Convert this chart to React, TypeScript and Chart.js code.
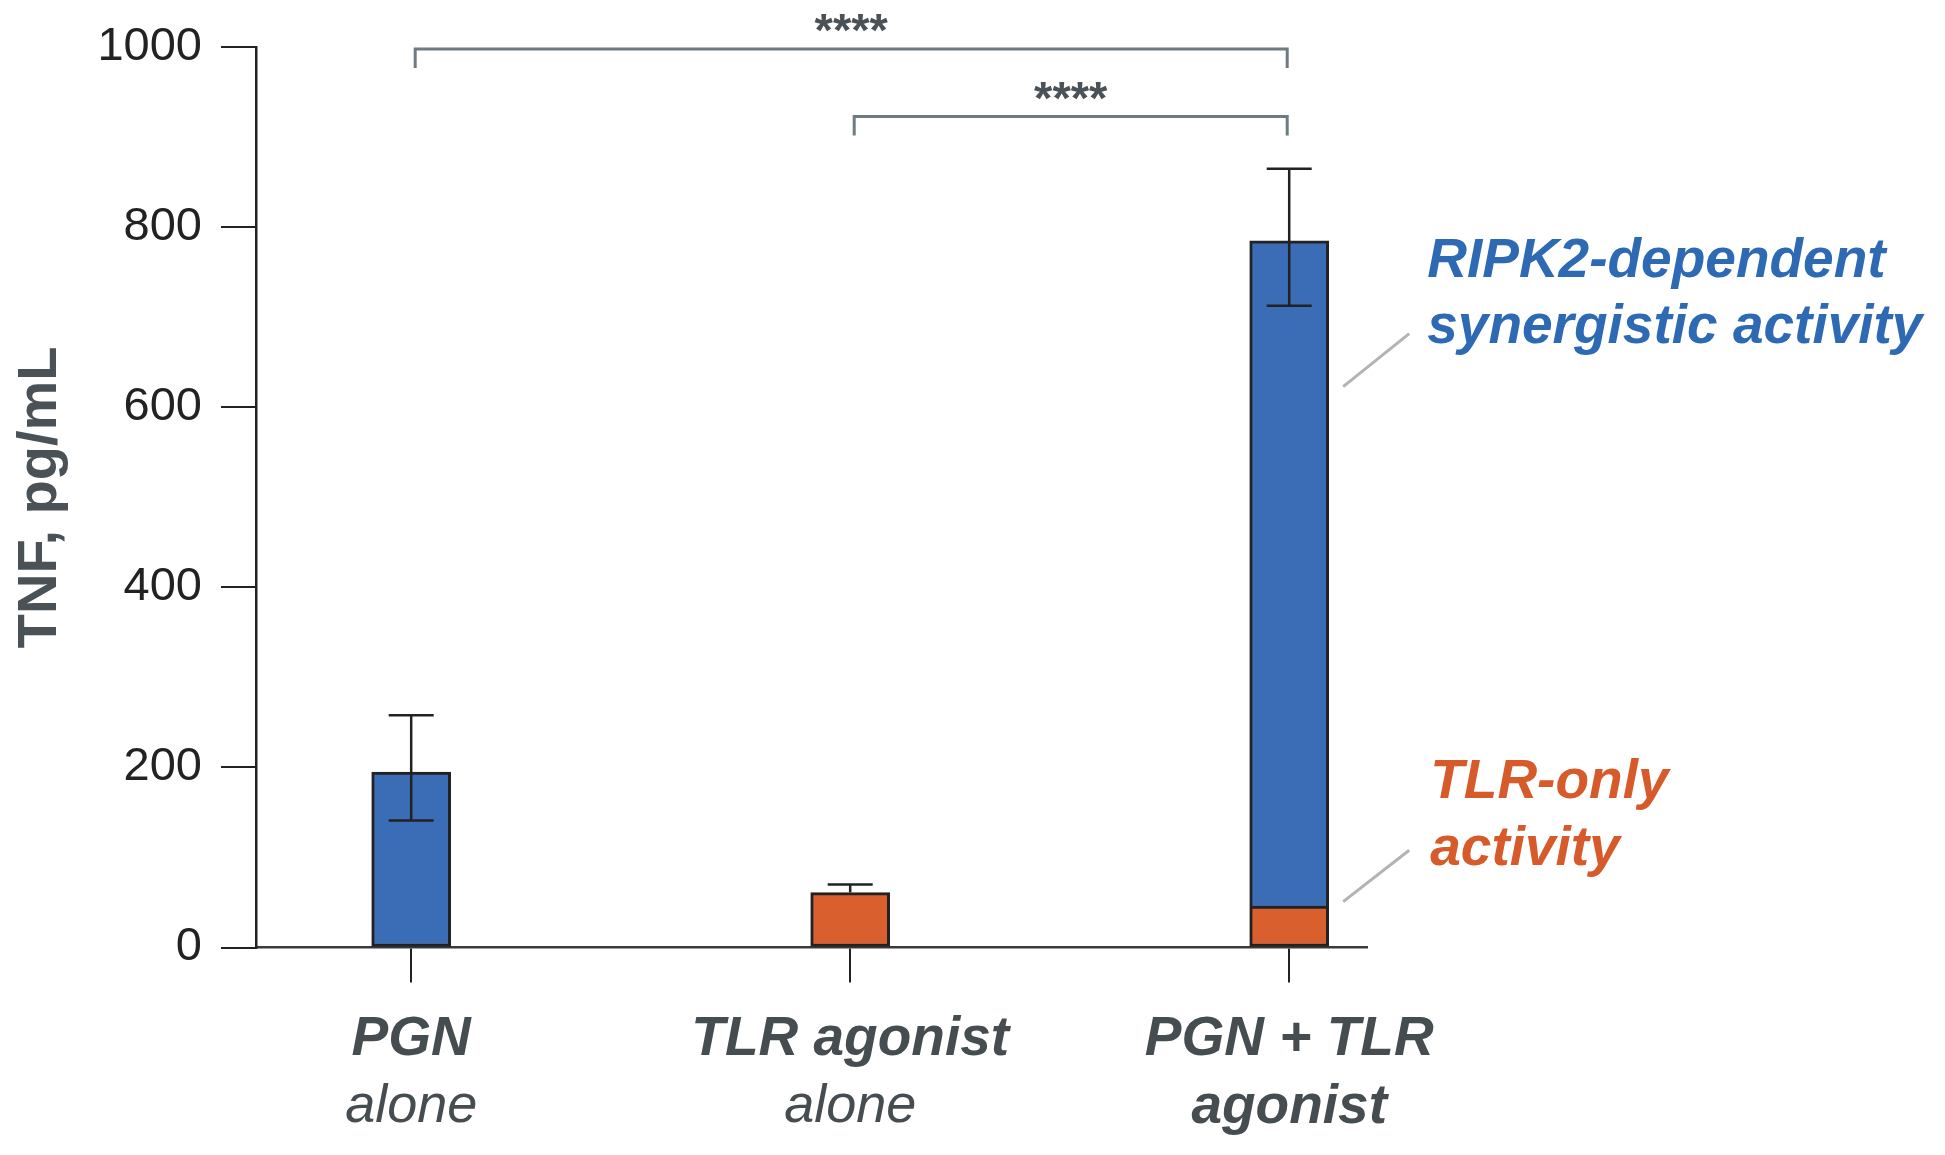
import React, { useEffect, useRef } from 'react';
import { Chart, registerables } from 'chart.js';

Chart.register(...registerables);

// ---------- data ----------
const categoriesTop = ['PGN', 'TLR agonist', 'PGN + TLR'];
const categoriesBottom = ['alone', 'alone', 'agonist'];
const tlrOnlyValues: (number | null)[] = [null, 61, 46];
const ripk2Values: (number | null)[] = [195, null, 739];
const errorUp = [63, 9, 80];
const errorDown = [54, 0, 72];
const yTickValues = [0, 200, 400, 600, 800, 1000];
const yTitle = 'TNF, pg/mL';
const brackets = [
  { from: 0, to: 2, level: 998, label: '****' },
  { from: 1, to: 2, level: 923, label: '****' },
];
const ripk2Annotation = ['RIPK2-dependent', 'synergistic activity'];
const tlrAnnotation = ['TLR-only', 'activity'];

// ---------- styles ----------
const FAMILY = '"Liberation Sans", Arial, Helvetica, sans-serif';
const BLUE = '#3b6db7';
const ORANGE = '#d95f2e';
const BLUE_TEXT = '#2e6ab3';
const ORANGE_TEXT = '#d65a2a';
const DARK = '#222222';
const GRAY_TEXT = '#464d51';

const errorBarPlugin = {
  id: 'errorBars',
  afterDatasetsDraw(chart: any) {
    const { ctx } = chart;
    const xs = chart.scales.x;
    const ys = chart.scales.y;
    ctx.save();
    ctx.strokeStyle = DARK;
    ctx.lineWidth = 2.5;
    categoriesTop.forEach((_, i) => {
      const total = (tlrOnlyValues[i] || 0) + (ripk2Values[i] || 0);
      const x = xs.getPixelForValue(i);
      const yTop = ys.getPixelForValue(total + errorUp[i]);
      const yBot = ys.getPixelForValue(total - errorDown[i]);
      const half = 22.5;
      ctx.beginPath();
      ctx.moveTo(x, yTop);
      ctx.lineTo(x, yBot);
      ctx.moveTo(x - half, yTop);
      ctx.lineTo(x + half, yTop);
      if (errorDown[i] > 0) {
        ctx.moveTo(x - half, yBot);
        ctx.lineTo(x + half, yBot);
      }
      ctx.stroke();
    });
    ctx.restore();
  },
};

const annotationPlugin = {
  id: 'annotations',
  afterDraw(chart: any) {
    const { ctx } = chart;
    const xs = chart.scales.x;
    const ys = chart.scales.y;
    ctx.save();
    // significance brackets
    brackets.forEach((b) => {
      const x1 = xs.getPixelForValue(b.from) + 4;
      const x2 = xs.getPixelForValue(b.to) - 2;
      const y = ys.getPixelForValue(b.level);
      ctx.strokeStyle = '#6e7c82';
      ctx.lineWidth = 3;
      ctx.beginPath();
      ctx.moveTo(x1, y + 19);
      ctx.lineTo(x1, y);
      ctx.lineTo(x2, y);
      ctx.lineTo(x2, y + 19);
      ctx.stroke();
      ctx.fillStyle = '#4a5257';
      ctx.font = `bold 47px ${FAMILY}`;
      ctx.textAlign = 'center';
      ctx.textBaseline = 'alphabetic';
      ctx.fillText(b.label, (x1 + x2) / 2, y - 3);
    });

    // annotations for the combined bar
    const bx = xs.getPixelForValue(2);
    const tx = bx + 138;
    ctx.strokeStyle = '#b3b3b3';
    ctx.lineWidth = 3;
    ctx.beginPath();
    ctx.moveTo(bx + 54, ys.getPixelForValue(623));
    ctx.lineTo(bx + 120, ys.getPixelForValue(682));
    ctx.moveTo(bx + 54, ys.getPixelForValue(51));
    ctx.lineTo(bx + 120, ys.getPixelForValue(108));
    ctx.stroke();

    ctx.font = `italic bold 55px ${FAMILY}`;
    ctx.textAlign = 'left';
    ctx.textBaseline = 'alphabetic';
    ctx.fillStyle = BLUE_TEXT;
    ctx.fillText(ripk2Annotation[0], tx, ys.getPixelForValue(745));
    ctx.fillText(ripk2Annotation[1], tx, ys.getPixelForValue(672));
    ctx.fillStyle = ORANGE_TEXT;
    ctx.fillText(tlrAnnotation[0], tx + 3, ys.getPixelForValue(166));
    ctx.fillText(tlrAnnotation[1], tx + 3, ys.getPixelForValue(92));
    ctx.restore();
  },
};

const X_MIN = -0.3535;
const X_MAX = 2.1772;

export default function App() {
  const canvasRef = useRef<HTMLCanvasElement | null>(null);

  useEffect(() => {
    if (!canvasRef.current) return;
    const toPoints = (arr: (number | null)[]) =>
      arr
        .map((v, i) => (v == null ? null : { x: i, y: v }))
        .filter((p) => p !== null) as { x: number; y: number }[];

    const chart = new Chart(canvasRef.current, {
      type: 'bar',
      data: {
        datasets: [
          {
            label: 'TLR-only activity',
            data: toPoints(tlrOnlyValues),
            backgroundColor: ORANGE,
            borderColor: DARK,
            borderWidth: 3,
            borderSkipped: false,
            barThickness: 79,
          },
          {
            label: 'RIPK2-dependent synergistic activity',
            data: toPoints(ripk2Values),
            backgroundColor: BLUE,
            borderColor: DARK,
            borderWidth: 3,
            borderSkipped: (c: any) => (c.raw && tlrOnlyValues[c.raw.x] != null ? 'start' : false),
            barThickness: 79,
          },
        ],
      } as any,
      options: {
        responsive: false,
        devicePixelRatio: 1,
        animation: false,
        layout: { padding: { left: 0, top: 47.3, right: 578, bottom: 0 } },
        plugins: { legend: { display: false }, tooltip: { enabled: false } },
        scales: {
          x: {
            type: 'linear',
            position: 'bottom',
            weight: 0,
            min: X_MIN,
            max: X_MAX,
            bounds: 'data',
            offset: false,
            stacked: true,
            afterBuildTicks: (s: any) => {
              s.ticks = categoriesTop.map((_, i) => ({ value: i }));
            },
            afterFit: (s: any) => {
              s.height = 126;
            },
            grid: {
              display: true,
              drawOnChartArea: false,
              drawTicks: true,
              tickLength: 35,
              color: DARK,
              lineWidth: 2,
              offset: false,
            },
            border: { display: true, color: '#3a3a3a', width: 2.5 },
            ticks: {
              autoSkip: false,
              maxRotation: 0,
              minRotation: 0,
              padding: 24,
              color: GRAY_TEXT,
              font: { family: FAMILY, size: 55, style: 'italic', weight: 'bold', lineHeight: 1.2 },
              callback: (v: any) => categoriesTop[v] ?? '',
            },
          },
          x2: {
            type: 'linear',
            position: 'bottom',
            weight: 1,
            min: X_MIN,
            max: X_MAX,
            bounds: 'data',
            offset: false,
            afterBuildTicks: (s: any) => {
              s.ticks = categoriesBottom.map((_, i) => ({ value: i }));
            },
            afterFit: (s: any) => {
              s.height = 81.5;
            },
            grid: { display: false, drawTicks: false, offset: false },
            border: { display: false },
            ticks: {
              autoSkip: false,
              maxRotation: 0,
              minRotation: 0,
              padding: 1.5,
              color: GRAY_TEXT,
              font: (c: any) =>
                c.index === 2
                  ? { family: FAMILY, size: 55, style: 'italic', weight: 'bold', lineHeight: 1.2 }
                  : { family: FAMILY, size: 54, style: 'italic', weight: 'normal', lineHeight: 1.2 },
              callback: (v: any) => categoriesBottom[v] ?? '',
            },
          },
          y: {
            type: 'linear',
            position: 'left',
            min: 0,
            max: 1000,
            bounds: 'data',
            stacked: true,
            afterBuildTicks: (s: any) => {
              s.ticks = yTickValues.map((v) => ({ value: v }));
            },
            afterFit: (s: any) => {
              s.width = 256;
            },
            grid: {
              display: true,
              drawOnChartArea: false,
              drawTicks: true,
              tickLength: 35,
              color: DARK,
              lineWidth: 2,
            },
            border: { display: true, color: DARK, width: 2.5 },
            ticks: {
              padding: 19,
              color: DARK,
              font: { family: FAMILY, size: 47 },
              callback: (v: any) => String(v),
            },
            title: {
              display: true,
              text: yTitle,
              color: '#4a5257',
              font: { family: FAMILY, size: 56, weight: 'bold', lineHeight: 1.2 },
              padding: { top: 7, bottom: 0 },
            },
          },
        },
      } as any,
      plugins: [errorBarPlugin, annotationPlugin],
    });
    return () => chart.destroy();
  }, []);

  return (
    <div style={{ position: 'absolute', left: 0, top: 0, width: 1945, height: 1155, background: '#ffffff' }}>
      <canvas ref={canvasRef} width={1945} height={1155} style={{ width: 1945, height: 1155, display: 'block' }} />
    </div>
  );
}
